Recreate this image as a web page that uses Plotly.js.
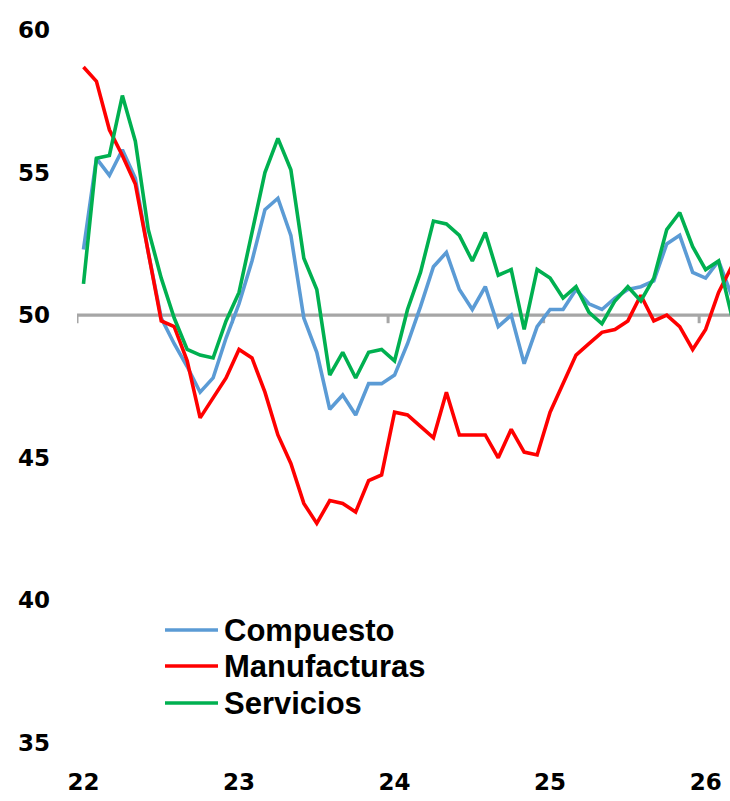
<!DOCTYPE html>
<html>
<head>
<meta charset="utf-8">
<script src="https://cdn.plot.ly/plotly-3.0.1.min.js"></script>
<style>html,body{margin:0;padding:0;background:#fff;}#chart{width:730px;height:801px;}</style>
</head>
<body>
<div id="chart"></div>
<script>
// Monthly PMI, Jan 2022 .. Mar 2026
const months = [
  "ene 22","feb 22","mar 22","abr 22","may 22","jun 22","jul 22","ago 22","sep 22","oct 22","nov 22","dic 22",
  "ene 23","feb 23","mar 23","abr 23","may 23","jun 23","jul 23","ago 23","sep 23","oct 23","nov 23","dic 23",
  "ene 24","feb 24","mar 24","abr 24","may 24","jun 24","jul 24","ago 24","sep 24","oct 24","nov 24","dic 24",
  "ene 25","feb 25","mar 25","abr 25","may 25","jun 25","jul 25","ago 25","sep 25","oct 25","nov 25","dic 25",
  "ene 26","feb 26","mar 26"
];
const compuesto = [
  52.3,55.5,54.9,55.8,54.8,52.2,49.9,49.0,48.2,47.3,47.8,49.2,
  50.4,51.9,53.7,54.1,52.8,49.9,48.7,46.7,47.2,46.5,47.6,47.6,
  47.9,49.0,50.3,51.7,52.2,50.9,50.2,51.0,49.6,50.0,48.3,49.6,
  50.2,50.2,50.9,50.4,50.2,50.6,50.9,51.0,51.2,52.5,52.8,51.5,
  51.3,51.9,50.7
];
const manufacturas = [
  58.7,58.2,56.5,55.6,54.6,52.2,49.8,49.6,48.4,46.4,47.1,47.8,
  48.8,48.5,47.3,45.8,44.8,43.4,42.7,43.5,43.4,43.1,44.2,44.4,
  46.6,46.5,46.1,45.7,47.3,45.8,45.8,45.8,45.0,46.0,45.2,45.1,
  46.6,47.6,48.6,49.0,49.4,49.5,49.8,50.7,49.8,50.0,49.6,48.8,
  49.5,50.8,51.7
];
const servicios = [
  51.1,55.5,55.6,57.7,56.1,53.0,51.3,49.9,48.8,48.6,48.5,49.8,
  50.8,52.9,55.0,56.2,55.1,52.0,50.9,47.9,48.7,47.8,48.7,48.8,
  48.4,50.2,51.5,53.3,53.2,52.8,51.9,52.9,51.4,51.6,49.5,51.6,
  51.3,50.6,51.0,50.1,49.7,50.5,51.0,50.5,51.3,53.0,53.6,52.4,
  51.6,51.9,50.0
];
const seriesNames = ["Compuesto","Manufacturas","Servicios"];
const seriesColors = ["#5B9BD5","#FF0000","#00B050"];
const yearTickMonths = ["ene 22","ene 23","ene 24","ene 25","ene 26"];
const yearLabels = ["22","23","24","25","26"];
const yTicks = [35,40,45,50,55,60];
const refLevel = 50;

// layout geometry (pixels)
const W = 730, H = 801, ML = 77, MR = 0, MT = 30, MB = 58;
const PW = W - ML - MR, PH = H - MT - MB;
const px = x => (x - ML) / PW;
const py = y => (H - MB - y) / PH;

const allSeries = [compuesto, manufacturas, servicios];
const traces = allSeries.map((vals, k) => ({
  type: "scatter", mode: "lines", x: months, y: vals, name: seriesNames[k],
  line: {color: seriesColors[k], width: 3.6}, showlegend: false, hoverinfo: "skip"
}));

const shapes = [];
// reference line at 50 acting as category axis
shapes.push({type: "line", xref: "x", yref: "y", x0: -0.5, x1: 60, y0: refLevel, y1: refLevel,
  line: {color: "#A6A6A6", width: 3.2}, layer: "below"});
// year boundary tick marks
for (let k = 0; k < yearTickMonths.length; k++) {
  const idx = months.indexOf(yearTickMonths[k]) - 0.5;
  shapes.push({type: "line", xref: "x", yref: "y", ysizemode: "pixel", yanchor: refLevel,
    x0: idx, x1: idx, y0: 1, y1: -8, line: {color: "#A6A6A6", width: 3}, layer: "below"});
}
// manual legend
const legY = [630, 666, 703];
const annotations = [];
for (let k = 0; k < 3; k++) {
  shapes.push({type: "line", xref: "paper", yref: "paper", x0: px(165), x1: px(218),
    y0: py(legY[k]), y1: py(legY[k]), line: {color: seriesColors[k], width: 3.6}});
  annotations.push({xref: "paper", yref: "paper", x: px(222), y: py(legY[k]), xanchor: "left", yanchor: "middle",
    text: seriesNames[k], showarrow: false,
    font: {family: "Liberation Sans, Arial, sans-serif", size: 31, color: "#000", weight: 700}});
}

const tickFont = {family: "DejaVu Sans, Liberation Sans, sans-serif", size: 23, weight: 700, color: "#000"};
const layout = {
  width: W, height: H,
  margin: {l: ML, r: MR, t: MT, b: MB, pad: 0},
  paper_bgcolor: "#fff", plot_bgcolor: "#fff",
  showlegend: false,
  font: {family: "Liberation Sans, Arial, sans-serif", color: "#000"},
  xaxis: {
    type: "category", range: [-0.5, 49.88], tickvals: yearTickMonths, ticktext: yearLabels,
    showgrid: false, showline: false, zeroline: false, ticks: "", ticklabelstandoff: 23,
    tickfont: tickFont
  },
  yaxis: {
    range: [35, 60], tickvals: yTicks, ticktext: yTicks.map(String),
    showgrid: false, showline: false, zeroline: false, ticks: "", ticklabelstandoff: 26,
    tickfont: tickFont
  },
  shapes: shapes,
  annotations: annotations
};

Plotly.newPlot("chart", traces, layout, {displayModeBar: false, staticPlot: true});
</script>
</body>
</html>
